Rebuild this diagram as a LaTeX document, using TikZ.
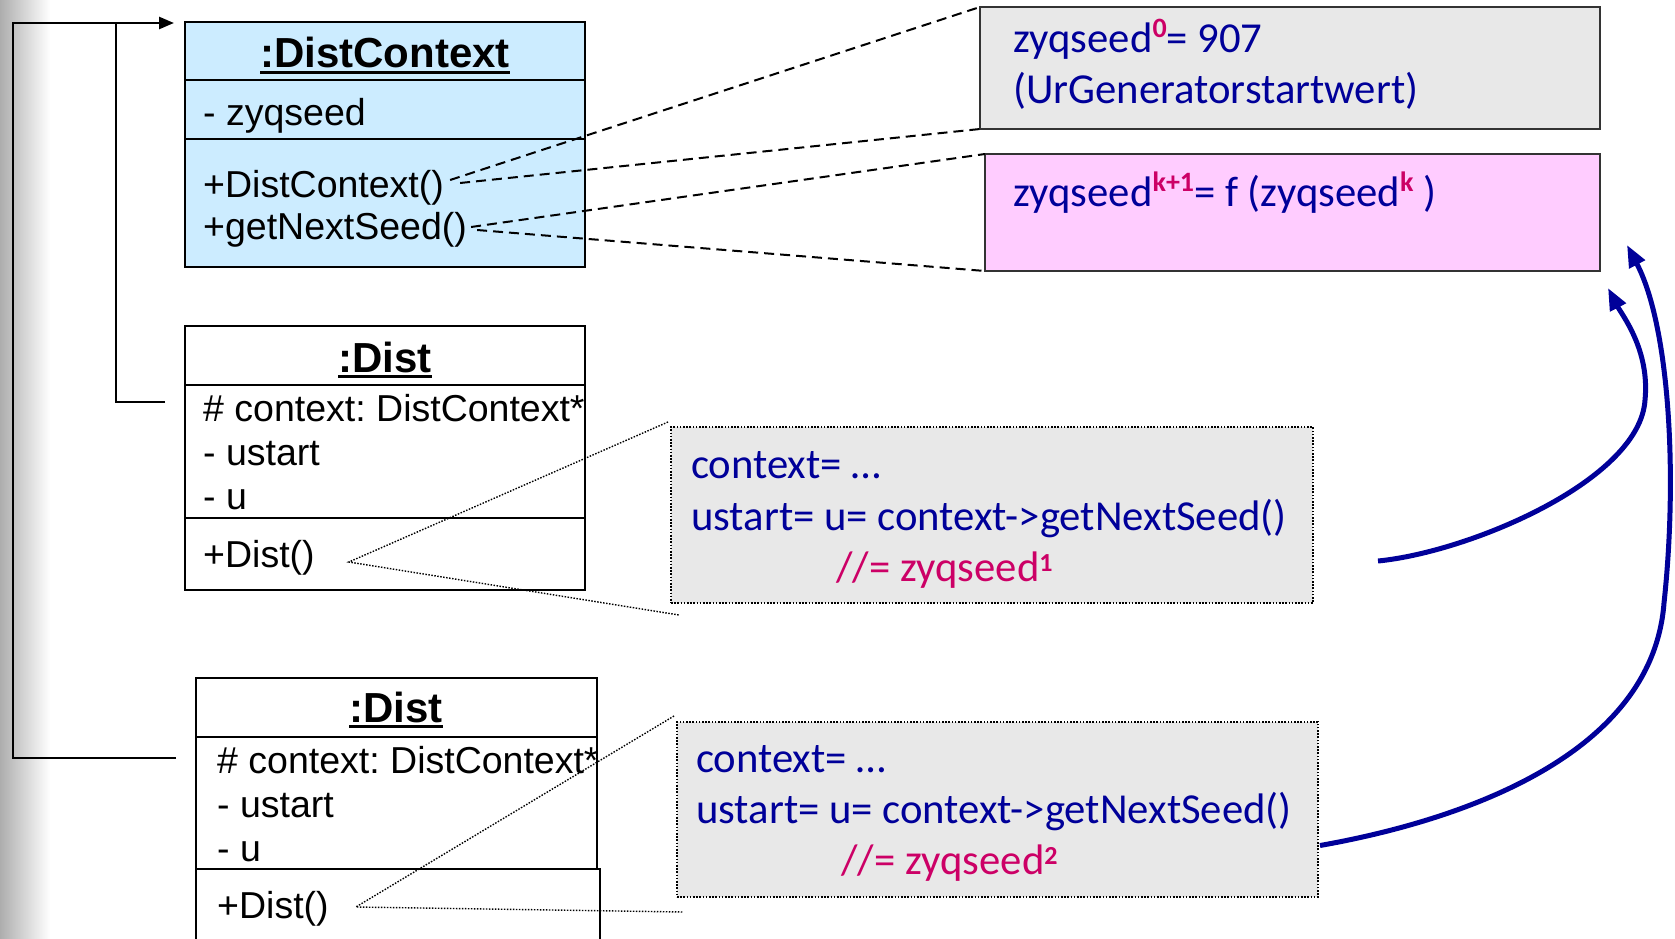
\documentclass[tikz,border=0pt]{standalone}
\usepackage{fontspec}
\setmainfont{Liberation Sans}
\newfontfamily\calib{Carlito}
\usetikzlibrary{arrows.meta,calc}
\frenchspacing

\definecolor{dcblue}{HTML}{CCECFF}
\definecolor{notegray}{HTML}{E8E8E8}
\definecolor{notepink}{HTML}{FFCCFF}
\definecolor{codeblue}{HTML}{000099}
\definecolor{codemag}{HTML}{CC0066}

% object name with a heavy underline
\newcommand\umlname[1]{\setbox0=\hbox{#1}\rlap{\rule[-6pt]{\wd0}{3pt}}\box0}
% bold magenta exponent of a seed
\newcommand\seedsup[2][15pt]{\raisebox{#1}{\fontsize{28}{28}\selectfont\bfseries\color{codemag}#2}}
% small bold exponent inside a comment
\newcommand\cmtsup[1]{\raisebox{10pt}{\fontsize{26}{26}\selectfont\bfseries #1}}

\begin{document}
\begin{tikzpicture}[x=1pt,y=-1pt,
  compart/.style={draw, line width=2.5pt, inner sep=0pt, outer sep=0pt, anchor=north west},
  umlhead/.style={inner sep=0pt, anchor=base, font=\fontsize{42}{50}\selectfont\bfseries},
  umltext/.style={inner sep=0pt, anchor=base west, font=\fontsize{37.5}{44}\selectfont},
  notebox/.style={draw=black!80, line width=2.5pt, inner sep=0pt, outer sep=0pt, anchor=north west},
  codebox/.style={draw, line width=1.4pt, dash pattern=on 1.6pt off 1.6pt, fill=notegray,
                  inner sep=0pt, outer sep=0pt, anchor=north west},
  codetext/.style={inner sep=0pt, anchor=base west, text=codeblue, font=\calib\fontsize{42.7}{51}\selectfont},
  callout/.style={line width=2pt, dash pattern=on 10pt off 6pt},
  dotcall/.style={line width=1.4pt, dash pattern=on 1.5pt off 1.5pt},
  link/.style={line width=2.5pt},
  seedflow/.style={draw=codeblue, line width=5pt, -{Triangle[length=22pt,width=17pt]}}]

\useasboundingbox (0,0) rectangle (1675,939);
\shade[left color=black!32, right color=white] (0,0) rectangle (50,939);

% ---- :DistContext ----
\node[compart, fill=dcblue, minimum width=400pt, minimum height=58pt]  (dcHead) at (185,22) {};
\node[compart, fill=dcblue, minimum width=400pt, minimum height=59pt]  (dcAttr) at (185,80) {};
\node[compart, fill=dcblue, minimum width=400pt, minimum height=128pt] (dcOps)  at (185,139) {};
\node[umlhead] (dcName) at (385,68)  {\umlname{:DistContext}};
\node[umltext] (dcSeed) at (203,125) {- zyqseed};
\node[umltext] (dcCtor) at (203,197) {+DistContext()};
\node[umltext] (dcNext) at (203,239) {+getNextSeed()};

% ---- first :Dist ----
\node[compart, fill=white, minimum width=400pt, minimum height=59pt]  (d1Head) at (185,326) {};
\node[compart, fill=white, minimum width=400pt, minimum height=133pt] (d1Attr) at (185,385) {};
\node[compart, fill=white, minimum width=400pt, minimum height=72pt]  (d1Ops)  at (185,518) {};
\node[umlhead] (d1Name) at (385,372) {\umlname{:Dist}};
\node[umltext] (d1Ctx)  at (203,421) {\# context: DistContext*};
\node[umltext] (d1Us)   at (203,465) {- ustart};
\node[umltext] (d1U)    at (203,509) {- u};
\node[umltext] (d1Dist) at (203,567) {+Dist()};

% ---- second :Dist ----
\node[compart, fill=white, minimum width=401pt, minimum height=59pt]  (d2Head) at (196,678) {};
\node[compart, fill=white, minimum width=401pt, minimum height=132pt] (d2Attr) at (196,737) {};
\node[compart, fill=white, minimum width=404pt, minimum height=90pt]  (d2Ops)  at (196,869) {};
\node[umlhead] (d2Name) at (396,722) {\umlname{:Dist}};
\node[umltext] (d2Ctx)  at (217,773) {\# context: DistContext*};
\node[umltext] (d2Us)   at (217,817) {- ustart};
\node[umltext] (d2U)    at (217,861) {- u};
\node[umltext] (d2Dist) at (217,918) {+Dist()};

% ---- seed notes ----
\node[notebox, fill=notegray, minimum width=620pt, minimum height=122pt] (seed0) at (980,7) {};
\node[notebox, fill=notepink, minimum width=615pt, minimum height=117pt] (seedk) at (985,154) {};
\node[codetext] (s0a) at (1013,53)  {zyqseed\seedsup{0}= 907};
\node[codetext] (s0b) at (1013,104) {(UrGeneratorstartwert)};
\node[codetext] (ska) at (1013,206) {zyqseed\seedsup{k+1}= f (zyqseed\seedsup{k} )};

% ---- constructor code notes ----
\node[codebox, minimum width=642pt, minimum height=176pt] (code1) at (671,427) {};
\node[codetext] (c1a) at (691,478) {context= …};
\node[codetext] (c1b) at (691,530) {ustart= u= context->getNextSeed()};
\node[codetext, text=codemag] (c1c) at (836,581) {//= zyqseed\cmtsup{1}};

\node[codebox, minimum width=641pt, minimum height=175pt] (code2) at (677,722) {};
\node[codetext] (c2a) at (696,772) {context= …};
\node[codetext] (c2b) at (696,823) {ustart= u= context->getNextSeed()};
\node[codetext, text=codemag] (c2c) at (841,874) {//= zyqseed\cmtsup{2}};

% ---- context pointers ----
\coordinate (ctxTip) at ($(dcHead.north west)+(-11,1)$);
\coordinate (d1Tap)  at ($(d1Attr.north west)+(-20,17)$);
\coordinate (d2Tap)  at ($(d2Attr.north west)+(-20,21)$);
\draw[link, -{Triangle[length=15pt,width=12pt]}] (d2Tap) -- ++(-163,0) |- (ctxTip);
\draw[link] (d1Tap) -| ($(ctxTip)+(-58,0)$);

% ---- dashed callouts of the DistContext operations ----
\coordinate (ctorA) at ($(dcCtor.base east)+(6,-17)$);
\coordinate (ctorB) at ($(dcCtor.base east)+(16,-14)$);
\coordinate (nextA) at ($(dcNext.base east)+(4,-12)$);
\coordinate (nextB) at ($(dcNext.base east)+(10,-9)$);
\draw[callout] (ctorA) -- (seed0.north west);
\draw[callout] (ctorB) -- (seed0.south west);
\draw[callout] (nextA) -- (seedk.north west);
\draw[callout] (nextB) -- (seedk.south west);

% ---- dotted callouts of the constructors ----
\coordinate (d1Op)     at ($(d1Dist.base east)+(34,-5)$);
\coordinate (code1Top) at ($(code1.north west)+(-3,-5)$);
\coordinate (code1Bot) at ($(code1.south west)+(8,12)$);
\draw[dotcall] (code1Top) -- (d1Op) -- (code1Bot);
\coordinate (d2Op)     at ($(d2Dist.base east)+(27,-11)$);
\coordinate (code2Top) at ($(code2.north west)+(-3,-6)$);
\coordinate (code2Bot) at ($(code2.south west)+(6,15)$);
\draw[dotcall] (code2Top) -- (d2Op) -- (code2Bot);

% ---- each getNextSeed() call advances the seed ----
\coordinate (flow1s) at ($(code1.east)+(65,46)$);
\coordinate (flow1m) at ($(seedk.south east)+(45,129)$);
\coordinate (flow1e) at ($(seedk.south east)+(8,17)$);
\draw[seedflow] (flow1s) .. controls +(92,-9) and +(-5,80) .. (flow1m)
                         .. controls +(5,-50) and +(14,27) .. (flow1e);
\coordinate (flow2s) at ($(code2.east)+(2,36)$);
\coordinate (flow2m) at ($(seedk.south east)+(64,332)$);
\coordinate (flow2e) at ($(seedk.south east)+(27,-26)$);
\draw[seedflow] (flow2s) .. controls +(130,-23) and +(-12,157) .. (flow2m)
                         .. controls +(14,-130) and +(42,80) .. (flow2e);
\end{tikzpicture}
\end{document}
